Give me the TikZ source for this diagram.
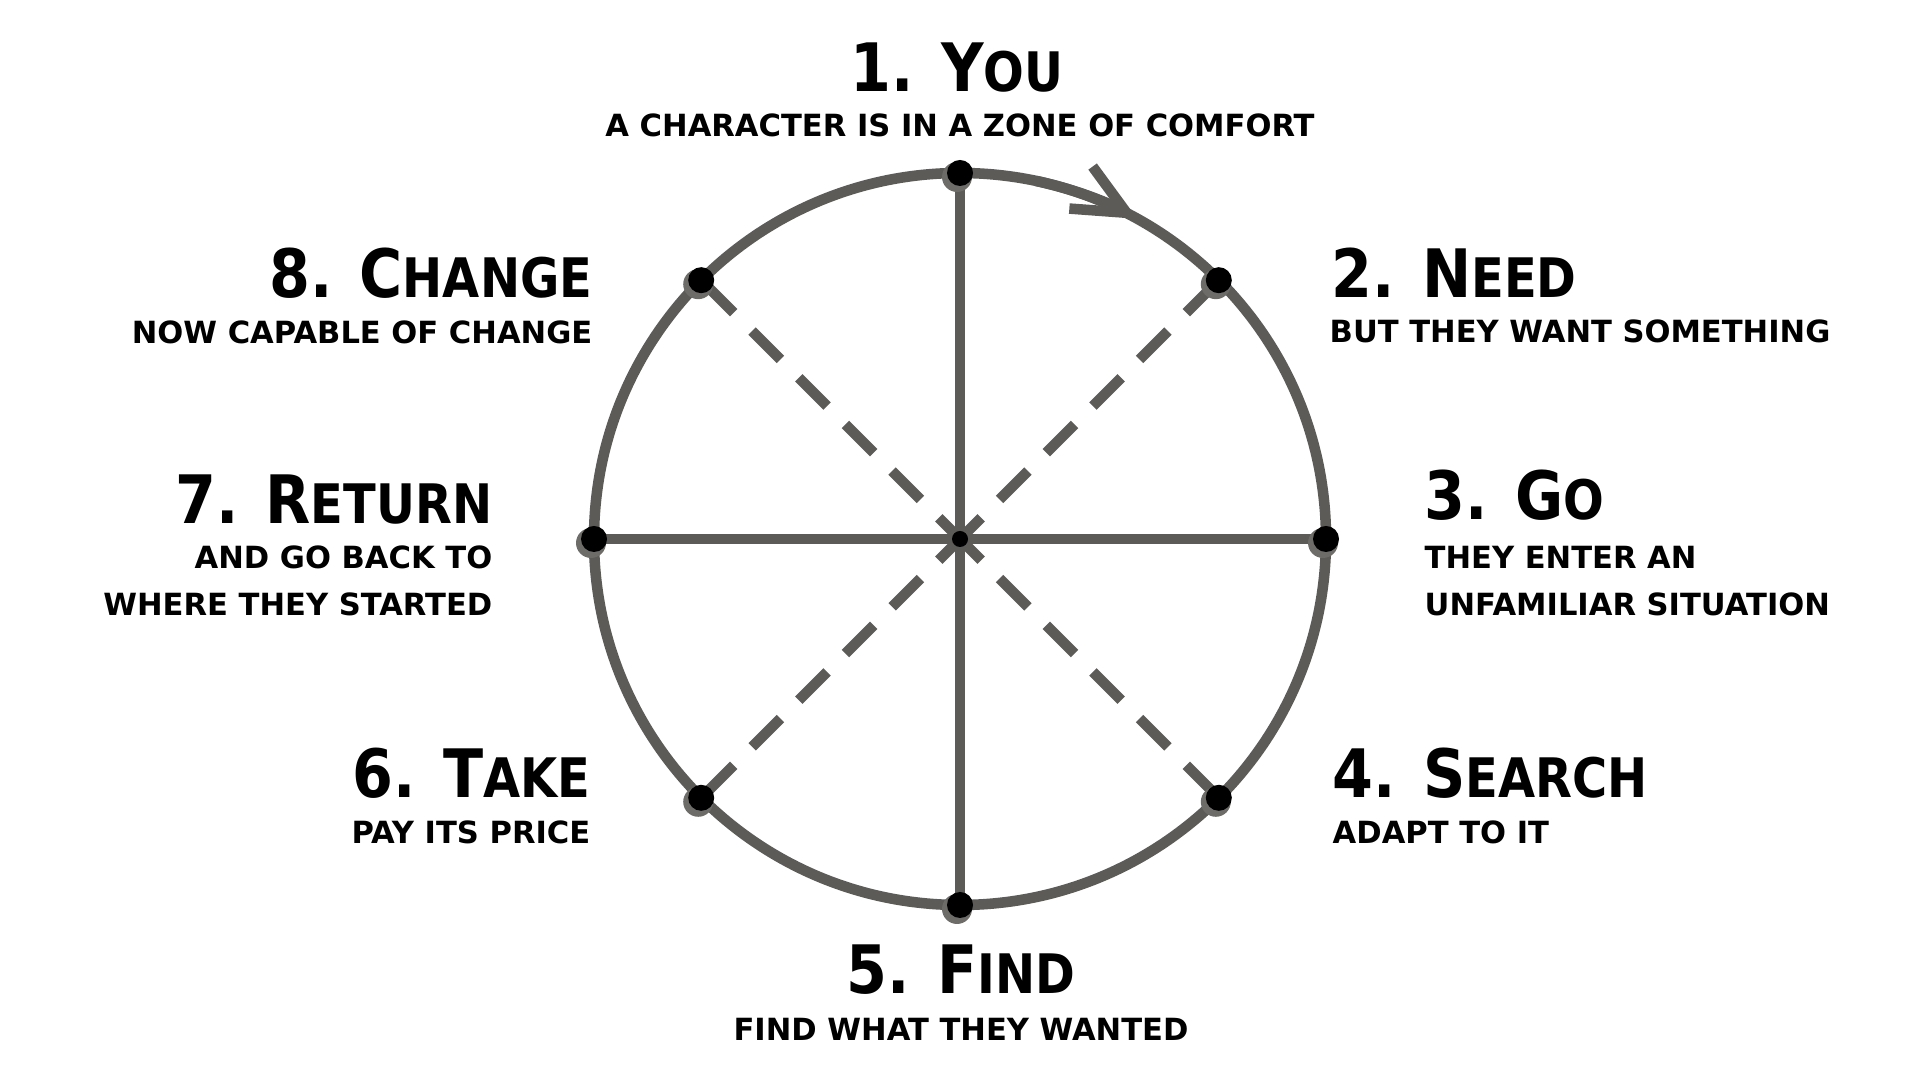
\documentclass[tikz,border=0pt]{standalone}
\usepackage{fontspec}
\setmainfont{DejaVu Sans}
\newfontfamily\headfont[FakeStretch=0.88]{DejaVu Sans}
\usetikzlibrary{arrows.meta}
\definecolor{wheel}{HTML}{5D5B57}
\definecolor{halo}{HTML}{6E6C68}
\tikzset{spoke/.style={line width=3pt,wheel},
  stagehead/.style={font=\headfont\bfseries\fontsize{19}{22}\selectfont,inner sep=0pt},
  stagenote/.style={font=\bfseries\fontsize{8.7}{13.4}\selectfont,inner sep=0pt}}
\newcommand{\lowcap}[1]{{\fontsize{15.5}{18}\selectfont #1}}

\begin{document}
\begin{tikzpicture}
  \useasboundingbox (0,0) rectangle (19.2,10.8);
  \coordinate (hub) at (9.60,5.41);
  \node[circle,spoke,draw,minimum size=7.32cm,outer sep=0pt] (rim) at (hub) {};
  \foreach \a in {0,90,180,270} \draw[spoke] (hub) -- (rim.\a);
  \foreach \a in {45,135,225,315} \draw[spoke,dash pattern=on 0.4cm off 0.26cm,dash phase=0.1cm] (hub) -- (rim.\a);
  \draw[spoke,-{Straight Barb[length=5.2mm,width=4.8mm]}] (hub) ++(78:3.66) arc (78:61:3.66);
  \foreach \a in {0,45,...,315} {
    \fill[halo] (rim.\a) ++(-0.03,-0.04) circle (0.15);
    \fill (rim.\a) circle (0.13);
  }
  \fill (hub) circle (0.08);
  % stages, clockwise from the top
  \node[stagehead,anchor=base] (t1) at (9.57,9.88) {1. Y\lowcap{OU}};
  \node[stagenote,anchor=base] (s1) at (9.60,9.43) {A CHARACTER IS IN A ZONE OF COMFORT};
  \node[stagehead,anchor=base west] (t2) at (13.31,7.82) {2. N\lowcap{EED}};
  \node[stagenote,anchor=base west] (s2) at (13.29,7.37) {BUT THEY WANT SOMETHING};
  \node[stagehead,anchor=base west] (t3) at (14.24,5.60) {3. G\lowcap{O}};
  \node[stagenote,anchor=base west,align=left] (s3) at (14.24,4.64) {THEY ENTER AN\\UNFAMILIAR SITUATION};
  \node[stagehead,anchor=base west] (t4) at (13.32,2.82) {4. S\lowcap{EARCH}};
  \node[stagenote,anchor=base west] (s4) at (13.32,2.36) {ADAPT TO IT};
  \node[stagehead,anchor=base] (t5) at (9.61,0.86) {5. F\lowcap{IND}};
  \node[stagenote,anchor=base] (s5) at (9.61,0.39) {FIND WHAT THEY WANTED};
  \node[stagehead,anchor=base east] (t6) at (5.91,2.82) {6. T\lowcap{AKE}};
  \node[stagenote,anchor=base east] (s6) at (5.91,2.36) {PAY ITS PRICE};
  \node[stagehead,anchor=base east] (t7) at (4.93,5.56) {7. R\lowcap{ETURN}};
  \node[stagenote,anchor=base east,align=right] (s7) at (4.93,4.64) {AND GO BACK TO\\WHERE THEY STARTED};
  \node[stagehead,anchor=base east] (t8) at (5.93,7.82) {8. C\lowcap{HANGE}};
  \node[stagenote,anchor=base east] (s8) at (5.93,7.36) {NOW CAPABLE OF CHANGE};
\end{tikzpicture}
\end{document}
